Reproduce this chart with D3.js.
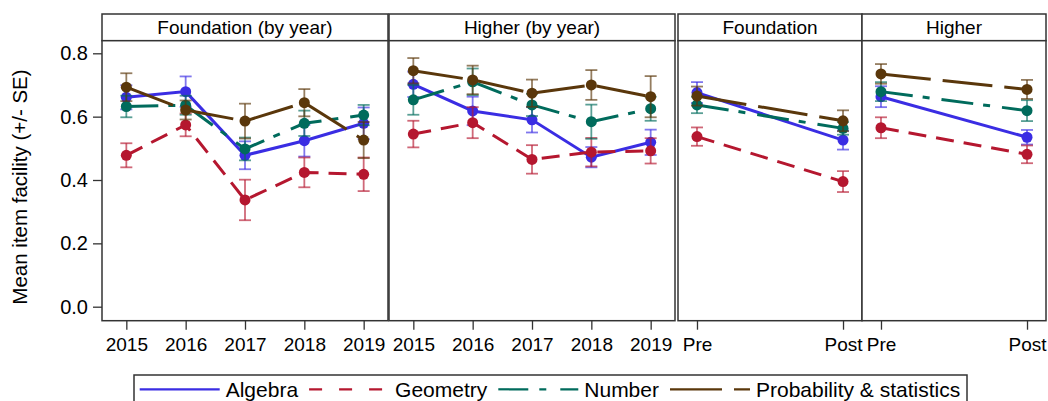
<!DOCTYPE html>
<html>
<head>
<meta charset="utf-8">
<script src="https://cdn.jsdelivr.net/npm/d3@7"></script>
<style>
  body { margin: 0; background: #fff; }
  svg { font-family: "Liberation Sans", Arial, sans-serif; }
</style>
</head>
<body>
<script>
var width = 1048;
var height = 401;

// categories
var years = ["2015", "2016", "2017", "2018", "2019"];
var phases = ["Pre", "Post"];
var panelTitles = ["Foundation (by year)", "Higher (by year)", "Foundation", "Higher"];
var subjects = ["Algebra", "Geometry", "Number", "Probability & statistics"];
var yTicks = [0, 0.2, 0.4, 0.6, 0.8];

// means, one row per subject (Algebra, Geometry, Number, Probability & statistics)
var foundationYearMean = [
  [0.661, 0.679, 0.478, 0.524, 0.579],
  [0.478, 0.574, 0.337, 0.424, 0.418],
  [0.632, 0.636, 0.498, 0.579, 0.605],
  [0.693, 0.621, 0.586, 0.644, 0.526]
];
var foundationYearSE = [
  [0.038, 0.048, 0.044, 0.050, 0.050],
  [0.038, 0.036, 0.064, 0.047, 0.053],
  [0.034, 0.030, 0.036, 0.040, 0.032],
  [0.044, 0.030, 0.055, 0.043, 0.057]
];
var higherYearMean = [
  [0.702, 0.618, 0.590, 0.472, 0.519],
  [0.545, 0.581, 0.465, 0.488, 0.492],
  [0.653, 0.710, 0.637, 0.584, 0.625],
  [0.745, 0.716, 0.674, 0.700, 0.663]
];
var higherYearSE = [
  [0.040, 0.045, 0.040, 0.032, 0.040],
  [0.042, 0.049, 0.045, 0.045, 0.040],
  [0.047, 0.042, 0.035, 0.054, 0.038],
  [0.040, 0.045, 0.043, 0.047, 0.065]
];
var foundationMean = [
  [0.676, 0.526],
  [0.537, 0.395],
  [0.637, 0.563],
  [0.665, 0.587]
];
var foundationSE = [
  [0.033, 0.030],
  [0.029, 0.033],
  [0.026, 0.020],
  [0.030, 0.033]
];
var higherMean = [
  [0.663, 0.535],
  [0.565, 0.481],
  [0.679, 0.619],
  [0.735, 0.686]
];
var higherSE = [
  [0.033, 0.023],
  [0.033, 0.028],
  [0.030, 0.033],
  [0.031, 0.030]
];

var colors = ["#3a2de3", "#b5172f", "#006b5c", "#5a370b"];
var dashes = [null, "18,10", "32,10,7,12", "50,12"];
var legendDashes = [null, "13,17", "30,11,7,14", "52,12"];
var frame = "#333";

var svg = d3.select("body").append("svg")
    .attr("width", width)
    .attr("height", height);

var stripTop = 14, plotTop = 40.7, plotBottom = 320.7;
var panelX = [[102, 388], [389, 675], [678, 862], [862, 1046]];
var panelCats = [years, years, phases, phases];
var panelPad = [0.41, 0.41, 0.13, 0.13];
var panelMean = [foundationYearMean, higherYearMean, foundationMean, higherMean];
var panelSE = [foundationYearSE, higherYearSE, foundationSE, higherSE];

var y = d3.scaleLinear().domain([0, 0.8]).range([306.7, 53.3]);

panelX.forEach(function(px, i) {
  var g = svg.append("g");
  var x = d3.scalePoint().domain(panelCats[i]).range(px).padding(panelPad[i]);

  // strip
  g.append("rect")
    .attr("x", px[0]).attr("y", stripTop)
    .attr("width", px[1] - px[0]).attr("height", plotTop - stripTop)
    .attr("fill", "#fff").attr("stroke", frame).attr("stroke-width", 1.5);
  g.append("text")
    .attr("x", (px[0] + px[1]) / 2).attr("y", 34)
    .attr("text-anchor", "middle")
    .style("font-size", "19px")
    .text(panelTitles[i]);

  // plot frame
  g.append("rect")
    .attr("x", px[0]).attr("y", plotTop)
    .attr("width", px[1] - px[0]).attr("height", plotBottom - plotTop)
    .attr("fill", "#fff").attr("stroke", frame).attr("stroke-width", 1.5);

  // x axis
  var ax = g.append("g")
    .attr("transform", "translate(0," + plotBottom + ")")
    .call(d3.axisBottom(x).tickSize(9).tickPadding(8));
  ax.select(".domain").remove();
  ax.selectAll("line").attr("stroke", frame).attr("stroke-width", 1.3);
  ax.selectAll("text").style("font-size", "19px").attr("fill", "#000")
    .style("font-family", "'Liberation Sans', Arial, sans-serif");

  // series
  subjects.forEach(function(s, k) {
    var pts = panelCats[i].map(function(c, j) {
      return { c: c, v: panelMean[i][k][j], se: panelSE[i][k][j] };
    });
    var line = d3.line()
      .x(function(d) { return x(d.c); })
      .y(function(d) { return y(d.v); });
    g.append("path")
      .datum(pts)
      .attr("d", line)
      .attr("fill", "none")
      .attr("stroke", colors[k])
      .attr("stroke-width", 3)
      .attr("stroke-dasharray", dashes[k]);

    var eb = g.append("g")
      .attr("stroke", colors[k])
      .attr("stroke-width", 1.8)
      .attr("stroke-opacity", 0.65);
    pts.forEach(function(d) {
      var cx = x(d.c);
      eb.append("line").attr("x1", cx).attr("x2", cx)
        .attr("y1", y(d.v - d.se)).attr("y2", y(d.v + d.se));
      eb.append("line").attr("x1", cx - 6).attr("x2", cx + 6)
        .attr("y1", y(d.v - d.se)).attr("y2", y(d.v - d.se));
      eb.append("line").attr("x1", cx - 6).attr("x2", cx + 6)
        .attr("y1", y(d.v + d.se)).attr("y2", y(d.v + d.se));
    });

    g.selectAll(null)
      .data(pts)
      .enter().append("circle")
      .attr("cx", function(d) { return x(d.c); })
      .attr("cy", function(d) { return y(d.v); })
      .attr("r", 5.5)
      .attr("fill", colors[k]);
  });
});

// y axis
var ay = svg.append("g")
  .attr("transform", "translate(102,0)")
  .call(d3.axisLeft(y).tickValues(yTicks).tickFormat(d3.format(".1f")).tickSize(9).tickPadding(5));
ay.select(".domain").remove();
ay.selectAll("line").attr("stroke", frame).attr("stroke-width", 1.3);
ay.selectAll("text").style("font-size", "20px").attr("fill", "#000")
  .style("font-family", "'Liberation Sans', Arial, sans-serif");

svg.append("text")
  .attr("transform", "translate(27,187) rotate(-90)")
  .attr("text-anchor", "middle")
  .style("font-size", "20.5px")
  .text("Mean item facility (+/- SE)");

// legend
svg.append("rect")
  .attr("x", 134).attr("y", 375)
  .attr("width", 833).attr("height", 40)
  .attr("fill", "#fff").attr("stroke", frame).attr("stroke-width", 1.5);

var lx = 139.7, ly = 389.3;
subjects.forEach(function(s, k) {
  svg.append("line")
    .attr("x1", lx).attr("x2", lx + 80)
    .attr("y1", ly).attr("y2", ly)
    .attr("stroke", colors[k])
    .attr("stroke-width", 2.2)
    .attr("stroke-dasharray", legendDashes[k]);
  var t = svg.append("text")
    .attr("x", lx + 86).attr("y", ly + 7.5)
    .style("font-size", "21px")
    .text(s);
  lx += 86 + t.node().getComputedTextLength() + 11;
});
</script>
</body>
</html>
